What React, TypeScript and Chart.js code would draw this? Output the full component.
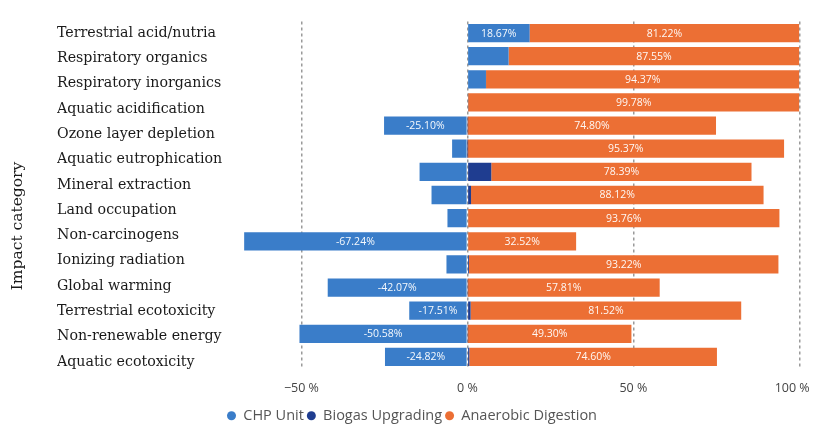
import React, { useEffect, useRef } from 'react';
import { Chart, registerables } from 'chart.js';

Chart.register(...registerables);

// Impact category labels as printed on the left of the figure
const categoryLabels = [
  'Terrestrial acid/nutria',
  'Respiratory organics',
  'Respiratory inorganics',
  'Aquatic acidification',
  'Ozone layer depletion',
  'Aquatic eutrophication',
  'Mineral extraction',
  'Land occupation',
  'Non-carcinogens',
  'Ionizing radiation',
  'Global warming',
  'Terrestrial ecotoxicity',
  'Non-renewable energy',
  'Aquatic ecotoxicity',
];

// Bar rows (the plot holds 15 bars)
const barRows = ['r1', 'r2', 'r3', 'r4', 'r5', 'r6', 'r7', 'r8', 'r9', 'r10', 'r11', 'r12', 'r13', 'r14', 'r15'];

const seriesNames = ['CHP Unit', 'Biogas Upgrading', 'Anaerobic Digestion'];
const seriesColors = ['#3a7dc9', '#1f3d90', '#ec6f34'];

const chpUnit = [18.67, 12.4, 5.6, 0.2, -25.1, -4.6, -14.4, -10.8, -6.0, -67.24, -6.3, -42.07, -17.51, -50.58, -24.82];
const biogasUpgrading = [0.11, 0.05, 0.03, 0.02, 0.1, 0.03, 7.2, 1.1, 0.24, 0.24, 0.48, 0.12, 0.97, 0.12, 0.58];
const anaerobicDigestion = [81.22, 87.55, 94.37, 99.78, 74.8, 95.37, 78.39, 88.12, 93.76, 32.52, 93.22, 57.81, 81.52, 49.3, 74.6];

const xTickValues = [-50, 0, 50, 100];
const yAxisTitle = 'Impact category';

const valueLabelPlugin = {
  id: 'valueLabels',
  afterDatasetsDraw(chart: any) {
    const ctx = chart.ctx;
    ctx.save();
    ctx.font = '10.5px "Open Sans"';
    ctx.fillStyle = 'rgba(255,255,255,0.95)';
    ctx.textAlign = 'center';
    ctx.textBaseline = 'middle';
    chart.data.datasets.forEach((ds: any, di: number) => {
      const meta = chart.getDatasetMeta(di);
      meta.data.forEach((bar: any, i: number) => {
        const v = ds.data[i];
        if (Math.abs(v) < 16) return;
        const cx = (bar.x + bar.base) / 2;
        ctx.fillText(v.toFixed(2) + '%', cx, bar.y + 0.5);
      });
    });
    ctx.restore();
  },
};

const yTitlePlugin = {
  id: 'yTitle',
  afterDraw(chart: any) {
    const ctx = chart.ctx;
    ctx.save();
    ctx.font = '15.5px "DejaVu Serif"';
    ctx.fillStyle = '#1a1a1a';
    ctx.textAlign = 'center';
    ctx.textBaseline = 'middle';
    ctx.translate(18, 226);
    ctx.rotate(-Math.PI / 2);
    ctx.fillText(yAxisTitle, 0, 0);
    ctx.restore();
  },
};

const formatXTick = (v: number) => {
  const text = (v < 0 ? '\u2212' + Math.abs(v) : String(v)) + ' %';
  // the last label is kept inside the plot edge, as in the original
  return v === xTickValues[xTickValues.length - 1] ? text + '\u2007\u2007' : text;
};

export default function App() {
  const canvasRef = useRef<HTMLCanvasElement | null>(null);

  useEffect(() => {
    if (!canvasRef.current) return;
    const chart = new Chart(canvasRef.current, {
      type: 'bar',
      data: {
        labels: barRows,
        datasets: [
          { label: seriesNames[0], data: chpUnit, backgroundColor: seriesColors[0] },
          { label: seriesNames[1], data: biogasUpgrading, backgroundColor: seriesColors[1] },
          { label: seriesNames[2], data: anaerobicDigestion, backgroundColor: seriesColors[2] },
        ],
      },
      options: {
        indexAxis: 'y',
        animation: false,
        responsive: true,
        maintainAspectRatio: false,
        datasets: { bar: { barPercentage: 0.79, categoryPercentage: 1 } },
        layout: { padding: { left: 0, right: 0, top: 21.5, bottom: 5 } },
        scales: {
          x: {
            type: 'linear',
            stacked: true,
            min: -70,
            max: 100,
            afterBuildTicks: (axis: any) => {
              axis.ticks = xTickValues.map((v) => ({ value: v }));
            },
            afterFit: (axis: any) => {
              axis.height = 37;
            },
            ticks: {
              padding: 0,
              color: '#444',
              font: { family: '"Open Sans"', size: 12.5 },
              callback: (v: any) => formatXTick(v),
            },
            grid: {
              color: '#9a9a9a',
              lineWidth: 1.5,
              drawTicks: true,
              tickLength: 12,
              tickColor: 'rgba(0,0,0,0)',
            },
            border: { display: false, dash: [3, 3] },
          },
          y: {
            type: 'category',
            stacked: true,
            display: false,
          },
          yLabels: {
            type: 'linear',
            position: 'left',
            reverse: true,
            offset: false,
            weight: 1,
            min: -0.457,
            max: 13.26,
            afterBuildTicks: (axis: any) => {
              axis.ticks = categoryLabels.map((_, i) => ({ value: i }));
            },
            afterFit: (axis: any) => {
              axis.width = 178;
            },
            ticks: {
              autoSkip: false,
              crossAlign: 'far',
              color: '#1a1a1a',
              font: { family: '"DejaVu Serif"', size: 14.2 },
              callback: (_v: any, i: number) => categoryLabels[i],
            },
            grid: { display: false },
            border: { display: false },
          },
          leftSpace: {
            type: 'linear',
            position: 'left',
            offset: false,
            weight: 10,
            ticks: { display: false },
            grid: { display: false },
            border: { display: false },
            afterFit: (axis: any) => {
              axis.width = 57;
            },
          },
        },
        plugins: {
          legend: {
            position: 'bottom',
            labels: {
              usePointStyle: true,
              pointStyle: 'circle',
              boxHeight: 6.4,
              pointStyleWidth: 9,
              padding: 3,
              color: '#555',
              font: { family: '"Open Sans"', size: 14.5 },
            },
          },
          tooltip: { enabled: false },
        },
      } as any,
      plugins: [valueLabelPlugin, yTitlePlugin],
    });
    return () => chart.destroy();
  }, []);

  return (
    <div style={{ position: 'fixed', left: 0, top: 0, width: 814, height: 428, overflow: 'hidden', background: '#fff' }}>
      <div style={{ position: 'relative', width: 824, height: 438 }}>
        <canvas ref={canvasRef} />
      </div>
    </div>
  );
}
